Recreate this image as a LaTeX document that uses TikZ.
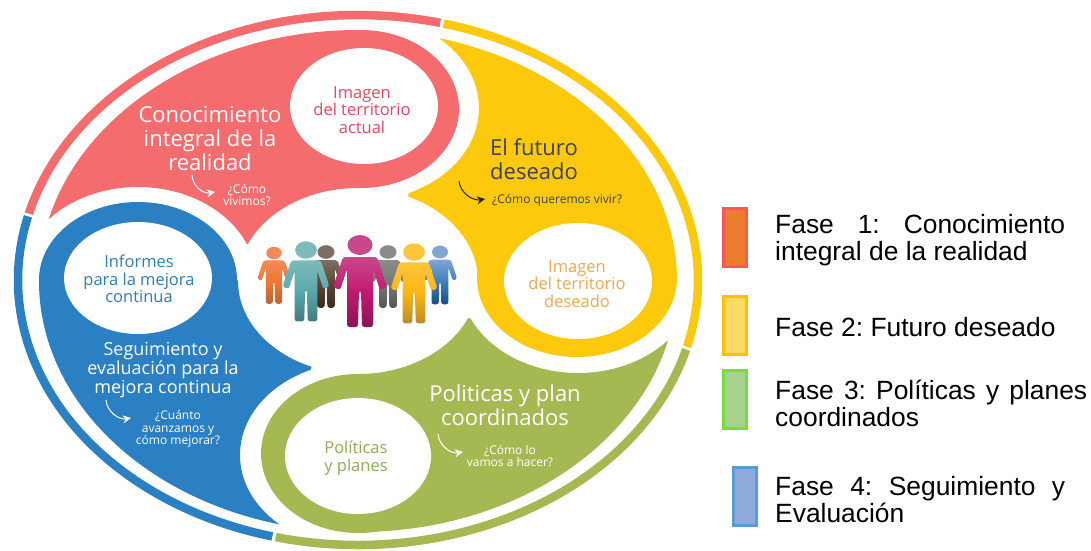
\documentclass[tikz,border=0pt]{standalone}
\usepackage{fontspec}
\setmainfont{Open Sans}
\newfontfamily\legendfont{Liberation Sans}
\usetikzlibrary{arrows.meta,shapes.geometric}
\definecolor{petalred}{RGB}{244,108,110}
\definecolor{petalyellow}{RGB}{253,201,13}
\definecolor{petalgreen}{RGB}{165,185,82}
\definecolor{petalblue}{RGB}{42,128,195}
\definecolor{textred}{RGB}{232,71,95}
\definecolor{textorange}{RGB}{240,168,80}
\definecolor{textgreen}{RGB}{140,175,85}
\definecolor{textblue}{RGB}{46,125,184}
\definecolor{textdark}{RGB}{61,66,80}
\definecolor{pinktop}{RGB}{200,72,140}
\definecolor{pinkmid}{RGB}{194,24,111}
\definecolor{pinkend}{RGB}{138,20,88}
\definecolor{tealtop}{RGB}{127,186,186}
\definecolor{tealmid}{RGB}{90,169,174}
\definecolor{tealend}{RGB}{67,121,127}
\definecolor{goldtop}{RGB}{255,197,58}
\definecolor{goldmid}{RGB}{253,181,21}
\definecolor{goldend}{RGB}{188,138,40}
\definecolor{orangetop}{RGB}{243,138,85}
\definecolor{orangemid}{RGB}{238,119,51}
\definecolor{orangeend}{RGB}{194,96,48}
\definecolor{browntop}{RGB}{125,110,98}
\definecolor{brownmid}{RGB}{90,70,56}
\definecolor{brownend}{RGB}{61,42,30}
\definecolor{graytop}{RGB}{138,138,138}
\definecolor{graymid}{RGB}{119,119,119}
\definecolor{grayend}{RGB}{85,85,85}
\definecolor{bluetop}{RGB}{127,166,211}
\definecolor{bluemid}{RGB}{63,126,189}
\definecolor{blueend}{RGB}{19,79,143}
\definecolor{swatchoneline}{RGB}{255,85,85}
\definecolor{swatchonefill}{RGB}{237,125,49}
\definecolor{swatchtwoline}{RGB}{255,192,0}
\definecolor{swatchtwofill}{RGB}{255,217,102}
\definecolor{swatchthreeline}{RGB}{112,224,60}
\definecolor{swatchthreefill}{RGB}{169,209,142}
\definecolor{swatchfourline}{RGB}{91,155,213}
\definecolor{swatchfourfill}{RGB}{143,170,220}

% one petal: colour, wedge that limits it, centre of the neighbour's halo
\newcommand{\petal}[3]{
    \begin{scope}[even odd rule]
        \clip (358,281) ellipse [x radius=319, y radius=251];
        \clip (-10,-10) rectangle (730,570) (358,281) ellipse [x radius=120, y radius=93];
        \clip (-10,-10) rectangle (730,570) #3 ellipse [x radius=118, y radius=93];
        \fill [#1] #2;
    \end{scope}
}
% one person: head centre, scale, three colours
\newcommand{\person}[6]{
    \begin{scope}[shift={(#1,#2)}, scale=#3]
        \fill [#4] (0,0) ellipse [x radius=12.5, y radius=10];
        \path [top color=#4, bottom color=#6, middle color=#5, rounded corners=2.5pt]
            (-17,12) -- (17,12) -- (27,42) -- (20,45) -- (13,24) -- (13,82) -- (2,82) -- (1,46)
            -- (-1,46) -- (-2,82) -- (-13,82) -- (-13,24) -- (-20,45) -- (-27,42) -- cycle;
    \end{scope}
}
% one stretch of the outer ring
\newcommand{\ringpart}[3]{
    \draw [#1, line width=8.5pt] plot [domain=#2:#3, samples=90, smooth] ({358+340*cos(\x)},{280+265*sin(\x)});
}

\begin{document}
\frenchspacing
\begin{tikzpicture}[x=1pt, y=-1pt]
    % Define styles
    \tikzstyle{bigtitle} = [text=white, font=\fontsize{22}{24}\selectfont, align=center, inner sep=0pt]
    \tikzstyle{midtitle} = [text=white, font=\fontsize{18}{19}\selectfont, align=center, inner sep=0pt]
    \tikzstyle{question} = [text=white, font=\fontsize{12}{12.8}\selectfont, align=center, inner sep=0pt]
    \tikzstyle{disctext} = [font=\fontsize{16.5}{17.5}\selectfont, align=center, inner sep=0pt]
    \tikzstyle{swatch} = [rectangle, draw, line width=3pt, minimum width=23pt, minimum height=58pt, inner sep=0pt]
    \tikzstyle{legendtext} = [font=\legendfont\fontsize{26.4}{27}\selectfont, inner sep=0pt, anchor=west, align=justify]
    \tikzstyle{arrow} = [line width=1pt, -{Stealth[length=8pt, width=8pt]}]

    \useasboundingbox (0,0) rectangle (1091,550);
    \fill [white] (0,0) rectangle (1091,550);

    % Outer ring
    \ringpart{petalred}{194.5}{284}
    \ringpart{petalyellow}{284.6}{374.6}
    \ringpart{petalgreen}{15.2}{104}
    \ringpart{petalblue}{104.6}{193.9}

    % Petals
    \petal{petalred}{(0,0) -- (0,215) -- (49,219) -- (249,244) -- (358,281) -- (361,109) -- (361,0) -- cycle}{(138,280)}
    \petal{petalyellow}{(445,0) -- (440,39) -- (408,197) -- (358,281) -- (578,280) -- (720,280) -- (720,0) -- cycle}{(361,108)}
    \petal{petalgreen}{(720,347) -- (667,341) -- (467,318) -- (358,281) -- (358,455) -- (358,560) -- (720,560) -- cycle}{(578,280)}
    \petal{petalblue}{(0,560) -- (270,560) -- (281,525) -- (311,368) -- (358,281) -- (138,280) -- (0,280) -- cycle}{(358,455)}

    % Rings round the white discs
    \fill [petalred] (361,109) ellipse [x radius=98, y radius=79];
    \fill [petalyellow] (577,278) ellipse [x radius=100, y radius=79];
    \fill [petalgreen] (358,453.5) ellipse [x radius=97, y radius=79.5];
    \fill [petalblue] (138,280) ellipse [x radius=99, y radius=78];
    \fill [white] (364,106) ellipse [x radius=74, y radius=58];
    \fill [white] (578,281) ellipse [x radius=74, y radius=58];
    \fill [white] (358,456) ellipse [x radius=73, y radius=58];
    \fill [white] (138,278) ellipse [x radius=74, y radius=56];

    % People
    \person{326}{252}{0.68}{browntop}{brownmid}{brownend}
    \person{388}{252}{0.68}{graytop}{graymid}{grayend}
    \person{274}{253}{0.62}{orangetop}{orangemid}{orangeend}
    \person{440}{252}{0.64}{bluetop}{bluemid}{blueend}
    \person{306}{250}{0.87}{tealtop}{tealmid}{tealend}
    \person{360}{245}{1}{pinktop}{pinkmid}{pinkend}
    \person{414}{252}{0.87}{goldtop}{goldmid}{goldend}

    % Texts on the petals
    \node (concepto) [bigtitle] at (210,139) {Conocimiento\\integral de la\\realidad};
    \node (vivimos) [question] at (247,195) {¿Cómo\\vivimos?};
    \node (futuro) [bigtitle, text=textdark, align=left, anchor=west] at (490,159) {El futuro\\deseado};
    \node (vivir) [question, text=textdark, anchor=west] at (492,200) {¿Cómo queremos vivir?};
    \node (politicas) [bigtitle] at (505,405) {Politicas y plan\\coordinados};
    \node (hacer) [question] at (510,456) {¿Cómo lo\\vamos a hacer?};
    \node (seguimiento) [midtitle] at (163,370) {Seguimiento y\\evaluación para la\\mejora continua};
    \node (cuanto) [question] at (178,429) {¿Cuánto\\avanzamos y\\cómo mejorar?};

    % Texts in the discs
    \node (actual) [disctext, text=textred] at (362,110) {Imagen\\del territorio\\actual};
    \node (deseado) [disctext, text=textorange] at (577,284) {Imagen\\del territorio\\deseado};
    \node (planes) [disctext, text=textgreen, align=left] at (356,458) {Políticas\\y planes};
    \node (informes) [disctext, text=textblue] at (139,279) {Informes\\para la mejora\\continua};

    % Small arrows
    \coordinate (startred) at (192,175);
    \coordinate (startyellow) at (459,181);
    \coordinate (startblue) at (106,400);
    \coordinate (startgreen) at (438,434);
    \coordinate (endred) at (215,192);
    \coordinate (endyellow) at (485,199);
    \coordinate (endblue) at (131,418);
    \coordinate (endgreen) at (463,452);
    \draw [arrow, white] (startred) .. controls +(1,12) and +(-12,2) .. (endred);
    \draw [arrow, black!85] (startyellow) .. controls +(1,12) and +(-12,2) .. (endyellow);
    \draw [arrow, white] (startblue) .. controls +(1,12) and +(-12,2) .. (endblue);
    \draw [arrow, white] (startgreen) .. controls +(1,12) and +(-12,2) .. (endgreen);

    % Legend
    \node (swatchone) [swatch, draw=swatchoneline, fill=swatchonefill] at (735,237.5) {};
    \node (swatchtwo) [swatch, draw=swatchtwoline, fill=swatchtwofill] at (735,325.5) {};
    \node (swatchthree) [swatch, draw=swatchthreeline, fill=swatchthreefill] at (735,399.5) {};
    \node (swatchfour) [swatch, draw=swatchfourline, fill=swatchfourfill] at (745,496.5) {};
    \node (faseone) [legendtext, text width=290pt] at (775,240.5) {Fase 1: Conocimiento\linebreak integral de la realidad};
    \node (fasetwo) [legendtext] at (775,327) {Fase 2: Futuro deseado};
    \node (fasethree) [legendtext, text width=312pt] at (775,403) {Fase 3: Políticas y planes\linebreak coordinados};
    \node (fasefour) [legendtext, text width=290pt] at (775,500) {Fase 4: Seguimiento y\linebreak Evaluación};
\end{tikzpicture}
\end{document}
